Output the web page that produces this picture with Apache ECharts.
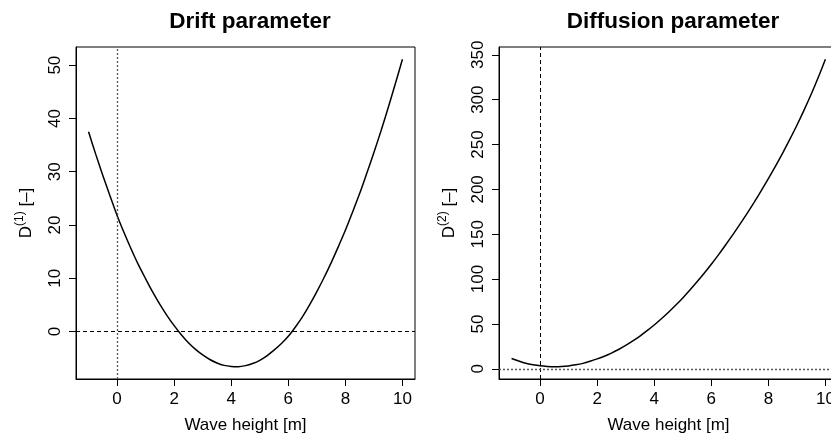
<!DOCTYPE html>
<html>
<head>
<meta charset="utf-8">
<script src="https://cdn.jsdelivr.net/npm/echarts@6/dist/echarts.min.js"></script>
<style>
html,body{margin:0;padding:0;background:#fff;}
#chart{width:831px;height:437px;}
</style>
</head>
<body>
<div id="chart"></div>
<script>
// ---- data ----
const waveHeight = [-1, -0.75, -0.5, -0.25, 0, 0.25, 0.5, 0.75, 1, 1.25, 1.5, 1.75, 2, 2.25, 2.5, 2.75, 3, 3.25, 3.5, 3.75, 4, 4.25, 4.5, 4.75, 5, 5.25, 5.5, 5.75, 6, 6.25, 6.5, 6.75, 7, 7.25, 7.5, 7.75, 8, 8.25, 8.5, 8.75, 9, 9.25, 9.5, 9.75, 10];
const driftValues = [37.5, 33.3, 29.3, 25.5, 21.8, 18.5, 15.4, 12.5, 9.9, 7.4, 5.1, 3.0, 1.1, -0.6, -2.1, -3.35, -4.4, -5.25, -5.9, -6.35, -6.55, -6.6, -6.4, -6.0, -5.4, -4.55, -3.5, -2.3, -0.9, 0.85, 2.8, 5.05, 7.5, 10.1, 12.9, 15.9, 19.0, 22.4, 25.9, 29.7, 33.6, 37.7, 42.0, 46.5, 51.1];
const diffusionValues = [11.5, 8.6, 6.1, 4.5, 3.3, 2.6, 2.3, 2.5, 3.2, 4.4, 6.0, 8.3, 11.0, 14.0, 17.5, 21.5, 26.0, 31.0, 36.5, 42.5, 48.8, 55.7, 63.0, 70.8, 79.0, 87.8, 97.0, 106.5, 116.5, 127.0, 138.0, 149.3, 161.0, 173.0, 185.5, 198.5, 212.0, 226.0, 240.5, 255.7, 271.5, 288.3, 306.0, 325.0, 345.0];
const xTicks = [0, 2, 4, 6, 8, 10];
const driftTicks = [0, 10, 20, 30, 40, 50];
const diffusionTicks = [0, 50, 100, 150, 200, 250, 300, 350];
const titles = ['Drift parameter', 'Diffusion parameter'];
const xName = 'Wave height [m]';
const yNames = ['{m|D}{s|(1)}{m| [–]}', '{m|D}{s|(2)}{m| [–]}'];

const FONT = 'Liberation Sans, Arial, Helvetica, sans-serif';

function pairs(xs, ys) { return xs.map((x, i) => [x, ys[i]]); }

function xAxisCfg(gridIndex) {
  return {
    type: 'value', gridIndex: gridIndex, min: -1.44, max: 10.44,
    name: xName, nameLocation: 'middle', nameGap: 38,
    nameTextStyle: { fontFamily: FONT, fontSize: 17, color: '#000' },
    axisLine: { show: true, onZero: false, lineStyle: { color: '#000', width: 1 } },
    axisTick: { show: true, length: 7, customValues: xTicks, lineStyle: { color: '#000' } },
    axisLabel: { customValues: xTicks, fontFamily: FONT, fontSize: 17, color: '#000', margin: 12 },
    splitLine: { show: false }
  };
}
function yAxisCfg(gridIndex, min, max, ticks, name) {
  return {
    type: 'value', gridIndex: gridIndex, min: min, max: max,
    name: name, nameLocation: 'middle', nameGap: 41, nameRotate: 90,
    nameTextStyle: {
      rich: {
        m: { fontFamily: FONT, fontSize: 17, color: '#000', lineHeight: 21, verticalAlign: 'bottom' },
        s: { fontFamily: FONT, fontSize: 12, color: '#000', lineHeight: 12, verticalAlign: 'top' }
      }
    },
    axisLine: { show: true, onZero: false, lineStyle: { color: '#000', width: 1 } },
    axisTick: { show: true, length: 7, customValues: ticks, lineStyle: { color: '#000' } },
    axisLabel: { customValues: ticks, rotate: 90, fontFamily: FONT, fontSize: 17, color: '#000', margin: 12 },
    splitLine: { show: false }
  };
}
function lineSeries(idx, ys, vDash, hDash) {
  return {
    type: 'line', xAxisIndex: idx, yAxisIndex: idx,
    data: pairs(waveHeight, ys), smooth: 0.3, showSymbol: false, symbol: 'none',
    lineStyle: { color: '#000', width: 1.5 },
    animation: false, silent: true,
    markLine: {
      silent: true, symbol: ['none', 'none'], label: { show: false }, animation: false,
      data: [
        { xAxis: 0, lineStyle: vDash },
        { yAxis: 0, lineStyle: hDash }
      ]
    }
  };
}
const dotted = { type: [2, 2], color: '#555', width: 1.3 };
const dashed = { type: [4, 3], color: '#000', width: 1 };

const chart = echarts.init(document.getElementById('chart'), null, { renderer: 'canvas' });
chart.setOption({
  backgroundColor: '#fff',
  animation: false,
  title: [
    { text: titles[0], left: 245, top: 5, textAlign: 'center',
      textStyle: { fontFamily: FONT, fontSize: 22.5, fontWeight: 'bold', color: '#000' } },
    { text: titles[1], left: 668, top: 5, textAlign: 'center',
      textStyle: { fontFamily: FONT, fontSize: 22.5, fontWeight: 'bold', color: '#000' } }
  ],
  grid: [
    { left: 76, top: 47, width: 339, height: 332, outerBoundsMode: 'none', containLabel: false,
      show: true, borderColor: '#000', borderWidth: 1, backgroundColor: 'transparent' },
    { left: 499, top: 47, width: 339, height: 332, outerBoundsMode: 'none', containLabel: false,
      show: true, borderColor: '#000', borderWidth: 1, backgroundColor: 'transparent' }
  ],
  xAxis: [xAxisCfg(0), xAxisCfg(1)],
  yAxis: [
    yAxisCfg(0, -8.91, 53.41, driftTicks, yNames[0]),
    yAxisCfg(1, -11.4, 358.7, diffusionTicks, yNames[1])
  ],
  series: [
    lineSeries(0, driftValues, dotted, dashed),
    lineSeries(1, diffusionValues, dashed, dotted)
  ]
});
</script>
</body>
</html>
